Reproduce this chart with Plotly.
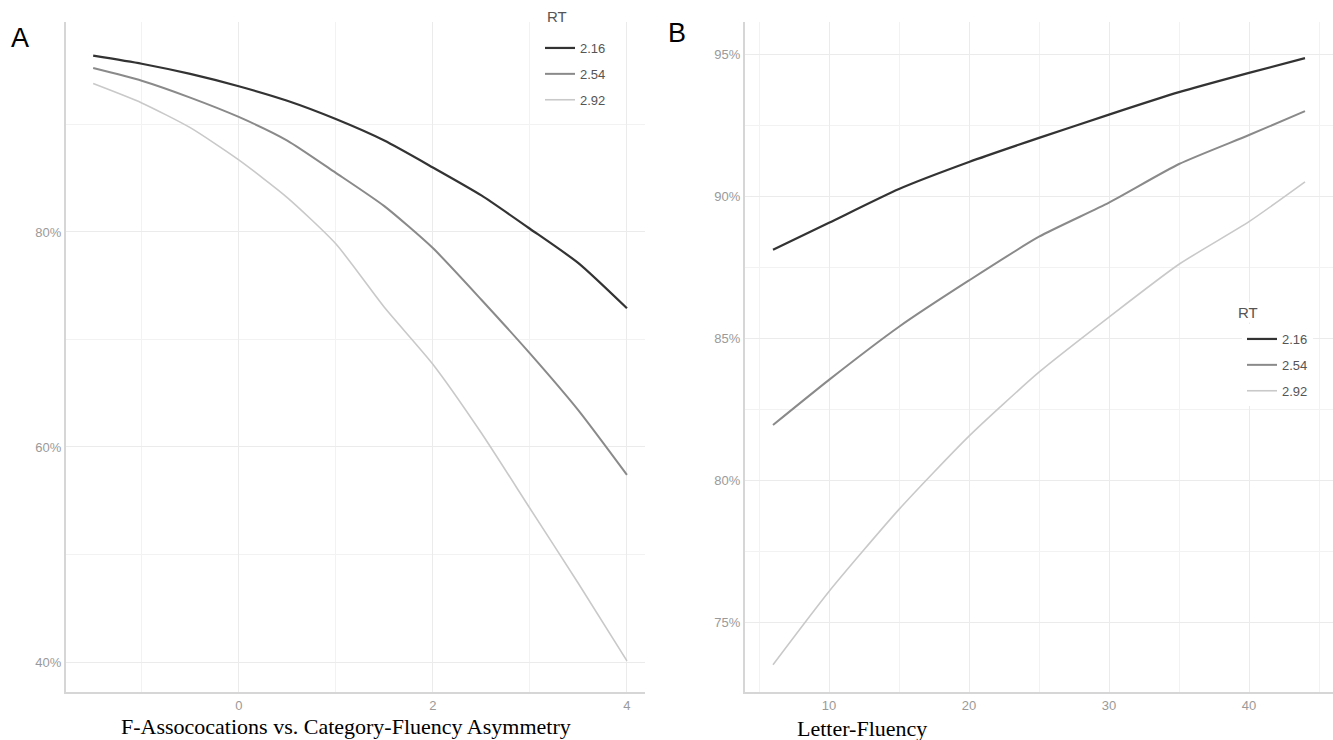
import plotly.graph_objects as go

# ---- Data ----
rt_levels = ["2.16", "2.54", "2.92"]
line_colors = ["#333333", "#8a8a8a", "#c9c9c9"]
line_widths = [2.2, 2.0, 1.6]

# Panel A: F-Associations vs. Category-Fluency Asymmetry
asym_x = [-1.5, -1.0, -0.5, 0.0, 0.5, 1.0, 1.5, 2.0, 2.5, 3.0, 3.5, 4.0]
asym_rt216 = [96.4, 95.65, 94.7, 93.55, 92.2, 90.5, 88.5, 86.0, 83.4, 80.3, 77.1, 72.9]
asym_rt254 = [95.25, 94.07, 92.5, 90.7, 88.5, 85.5, 82.4, 78.5, 73.7, 68.7, 63.4, 57.4]
asym_rt292 = [93.8, 92.0, 89.7, 86.7, 83.2, 78.9, 73.0, 67.7, 61.3, 54.3, 47.3, 40.1]

# Panel B: Letter-Fluency
letter_x = [6, 10, 15, 20, 25, 30, 35, 40, 44]
letter_rt216 = [88.11, 89.06, 90.25, 91.2, 92.05, 92.87, 93.66, 94.34, 94.86]
letter_rt254 = [81.94, 83.53, 85.4, 87.03, 88.57, 89.77, 91.13, 92.15, 92.99]
letter_rt292 = [73.5, 76.08, 78.97, 81.55, 83.8, 85.74, 87.6, 89.1, 90.5]

W, H = 1333, 740

fig = go.Figure()

for i, (lvl, ys) in enumerate(zip(rt_levels, [asym_rt216, asym_rt254, asym_rt292])):
    fig.add_trace(go.Scatter(
        x=asym_x, y=ys, mode="lines", name=lvl,
        line=dict(color=line_colors[i], width=line_widths[i], shape="spline", smoothing=0.6),
        xaxis="x", yaxis="y", legend="legend", legendgroup="a" + lvl,
    ))
for i, (lvl, ys) in enumerate(zip(rt_levels, [letter_rt216, letter_rt254, letter_rt292])):
    fig.add_trace(go.Scatter(
        x=letter_x, y=ys, mode="lines", name=lvl,
        line=dict(color=line_colors[i], width=line_widths[i], shape="spline", smoothing=0.6),
        xaxis="x2", yaxis="y2", legend="legend2", legendgroup="b" + lvl,
    ))

grid_major = "#ebebeb"
grid_minor = "#f2f2f2"
tick_font = dict(family="Liberation Sans, Arial, sans-serif", size=13, color="#9a9a9a")
axis_line = "#d6d6d6"

def xaxis_cfg(rng, dtick, minor_dtick, domain, anchor):
    return dict(
        domain=domain, range=rng, anchor=anchor, dtick=dtick, tick0=0,
        showgrid=True, gridcolor=grid_major, gridwidth=1,
        minor=dict(dtick=minor_dtick, tick0=0, showgrid=True, gridcolor=grid_minor, gridwidth=1),
        zeroline=False, showline=True, linecolor=axis_line, linewidth=2,
        ticks="", ticklen=0, tickfont=tick_font, fixedrange=True,
    )

def yaxis_cfg(rng, dtick, minor_dtick, domain, anchor):
    return dict(
        domain=domain, range=rng, anchor=anchor, dtick=dtick, tick0=0,
        ticksuffix="%",
        showgrid=True, gridcolor=grid_major, gridwidth=1,
        minor=dict(dtick=minor_dtick, tick0=0, showgrid=True, gridcolor=grid_minor, gridwidth=1),
        zeroline=False, showline=True, linecolor=axis_line, linewidth=2,
        ticks="", ticklen=0, tickfont=tick_font, fixedrange=True,
    )

ydom = [1 - 692 / H, 1 - 22 / H]

sans = "Liberation Sans, Arial, sans-serif"
legend_font = dict(family=sans, size=13, color="#555555")

fig.update_layout(
    width=W, height=H,
    margin=dict(l=0, r=0, t=0, b=0),
    paper_bgcolor="white", plot_bgcolor="white",
    xaxis=xaxis_cfg([-1.78, 4.186], 2, 1, [66 / W, 645 / W], "y"),
    yaxis=yaxis_cfg([37.21, 99.53], 20, 10, ydom, "x"),
    xaxis2=xaxis_cfg([4.0, 46.0], 10, 5, [745 / W, 1.0], "y2"),
    yaxis2=yaxis_cfg([72.54, 96.13], 5, 2.5, ydom, "x2"),
    legend=dict(
        x=540 / W, y=1 - 33 / H, xanchor="left", yanchor="top",
        font=legend_font, bgcolor="rgba(255,255,255,0)", tracegroupgap=6,
        itemwidth=30,
    ),
    legend2=dict(
        x=1242 / W, y=1 - 324 / H, xanchor="left", yanchor="top",
        font=legend_font, bgcolor="white", tracegroupgap=6,
        itemwidth=30,
    ),
    showlegend=True,
    annotations=[
        dict(text="RT", x=545 / W, y=1 - 16 / H, xref="paper", yref="paper",
             showarrow=False, xanchor="left", yanchor="middle",
             font=dict(family=sans, size=15, color="#555555")),
        dict(text="RT", x=1236 / W, y=1 - 312 / H, xref="paper", yref="paper",
             showarrow=False, xanchor="left", yanchor="middle",
             font=dict(family=sans, size=15, color="#555555"), bgcolor="white"),
        dict(text="A", x=20 / W, y=1 - 38 / H, xref="paper", yref="paper",
             showarrow=False, xanchor="center", yanchor="middle",
             font=dict(family=sans, size=27, color="black")),
        dict(text="B", x=677 / W, y=1 - 33 / H, xref="paper", yref="paper",
             showarrow=False, xanchor="center", yanchor="middle",
             font=dict(family=sans, size=27, color="black")),
        dict(text="F-Assococations vs. Category-Fluency Asymmetry", x=346 / W, y=1 - 726 / H,
             xref="paper", yref="paper", showarrow=False, xanchor="center", yanchor="middle",
             font=dict(family="Liberation Serif, Times New Roman, serif", size=22, color="black")),
        dict(text="Letter-Fluency", x=862 / W, y=1 - 728 / H,
             xref="paper", yref="paper", showarrow=False, xanchor="center", yanchor="middle",
             font=dict(family="Liberation Serif, Times New Roman, serif", size=22, color="black")),
    ],
)

fig.write_html(
    "out.html",
    config={"displayModeBar": False},
    post_script="document.body.style.margin='0px';document.body.style.overflow='hidden';",
)
